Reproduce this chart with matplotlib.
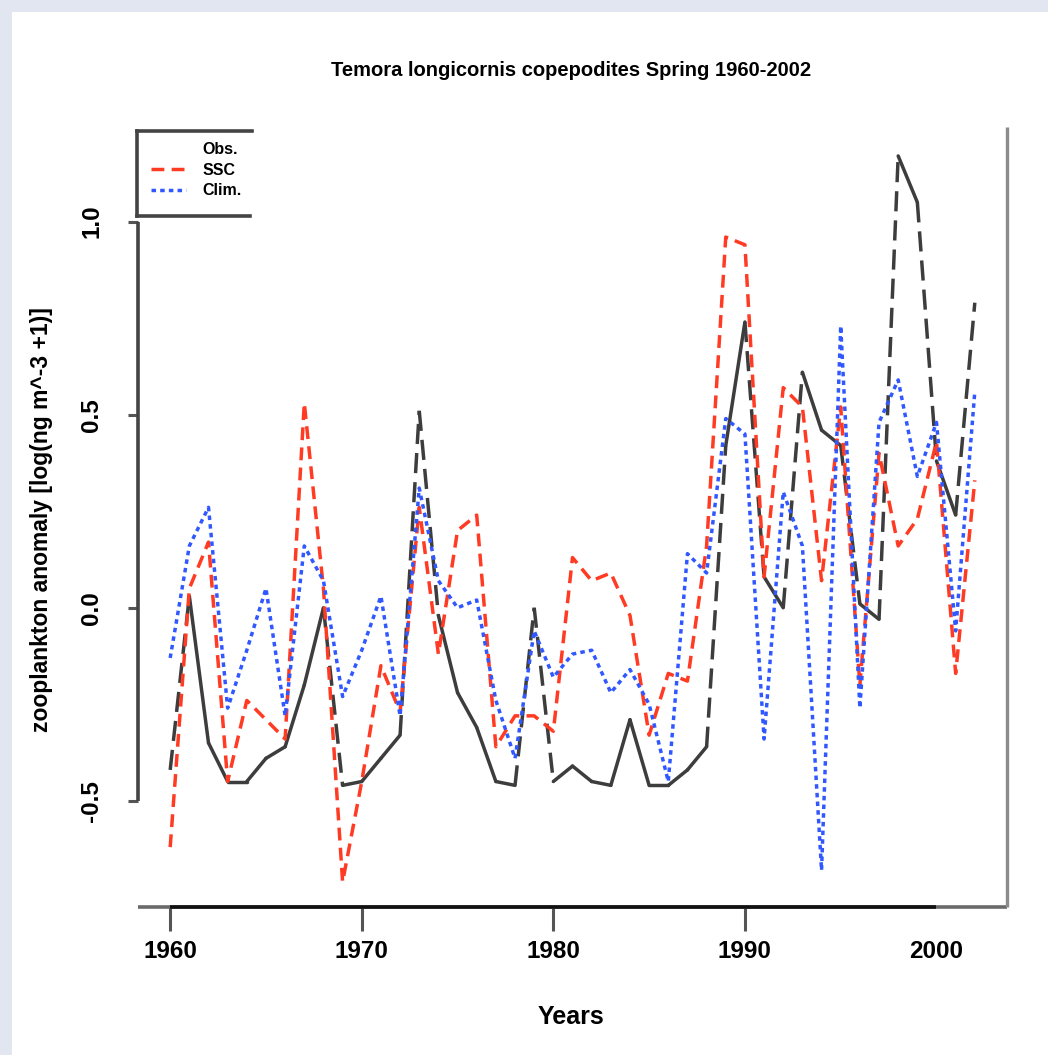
import matplotlib
matplotlib.use("Agg")
import matplotlib.pyplot as plt
from matplotlib.lines import Line2D
from matplotlib.patches import Rectangle

plt.rcParams['font.family'] = ['Liberation Sans', 'DejaVu Sans']
plt.rcParams['font.weight'] = 'bold'

years = list(range(1960, 2003))

# observed anomaly
obs = [-0.42, 0.03, -0.35, -0.45, -0.45, -0.39, -0.36, -0.20, 0.00, -0.46,
       -0.45, -0.39, -0.33, 0.51, -0.02, -0.22, -0.31, -0.45, -0.46, 0.00,
       -0.45, -0.41, -0.45, -0.46, -0.29, -0.46, -0.46, -0.42, -0.36, 0.42,
       0.74, 0.08, 0.00, 0.61, 0.46, 0.42, 0.01, -0.03, 1.17, 1.05,
       0.38, 0.24, 0.79]

# model run
ssc = [-0.62, 0.05, 0.17, -0.45, -0.24, -0.29, -0.34, 0.53, 0.05, -0.71,
       -0.45, -0.15, -0.27, 0.26, -0.12, 0.20, 0.24, -0.36, -0.28, -0.28,
       -0.32, 0.13, 0.07, 0.09, -0.02, -0.33, -0.17, -0.19, 0.16, 0.96,
       0.94, 0.08, 0.57, 0.52, 0.07, 0.52, -0.20, 0.40, 0.16, 0.23,
       0.43, -0.17, 0.33]

# climatology run
clim = [-0.13, 0.16, 0.26, -0.26, -0.11, 0.05, -0.28, 0.16, 0.07, -0.23,
        -0.11, 0.03, -0.28, 0.31, 0.07, 0.00, 0.02, -0.24, -0.39, -0.06,
        -0.18, -0.12, -0.11, -0.22, -0.16, -0.25, -0.45, 0.14, 0.09, 0.49,
        0.45, -0.34, 0.30, 0.16, -0.68, 0.73, -0.26, 0.48, 0.59, 0.34,
        0.48, -0.06, 0.56]

xtick_vals = [1960, 1970, 1980, 1990, 2000]
ytick_vals = [-0.5, 0.0, 0.5, 1.0]
ytick_text = ["-0.5", "0.0", "0.5", "1.0"]

RED = '#ff3b24'
BLUE = '#3158ff'
DARK = '#3d3d3d'

W, H = 1048, 1055
fig = plt.figure(figsize=(W / 100, H / 100), dpi=100)
fig.patch.set_facecolor('#e2e6f0')
fig.add_artist(Rectangle((12 / W, 0), 1, (H - 12) / H, transform=fig.transFigure,
                         facecolor='white', edgecolor='none', zorder=0))


def fx(px):
    return px / W


def fy(py):
    return 1 - py / H


ax = fig.add_axes([fx(138), fy(907), (1007 - 138) / W, (907 - 127) / H])
x0, x1 = 1958.32, 2003.68
y0, y1 = -0.775, 1.245
ax.set_xlim(x0, x1)
ax.set_ylim(y0, y1)
ax.patch.set_alpha(0)
for s in ax.spines.values():
    s.set_visible(False)

# Obs. line: steep steps come out dashed, gentle ones solid
for i in range(len(years) - 1):
    steep = abs(obs[i + 1] - obs[i]) > 0.40
    if steep:
        ax.plot(years[i:i + 2], obs[i:i + 2], color=DARK, lw=2.5,
                dashes=(5.8, 2.6), dash_capstyle='butt')
    else:
        ax.plot(years[i:i + 2], obs[i:i + 2], color=DARK, lw=2.5,
                solid_capstyle='round')

ax.plot(years, ssc, color=RED, lw=2.5, dashes=(3.7, 2.1))
ax.plot(years, clim, color=BLUE, lw=2.5, dashes=(1.3, 1.2))

# axis lines
ax.plot([x0, x0], [-0.5, 1.0], color='#444444', lw=2.6, clip_on=False,
        solid_capstyle='butt')
ax.plot([x0, x1], [y0, y0], color='#6a6a6a', lw=2.6, clip_on=False,
        solid_capstyle='butt')
ax.plot([1960, 2000], [y0, y0], color='#111111', lw=2.6, clip_on=False,
        solid_capstyle='butt')
ax.plot([x1, x1], [y0, y1], color='#8c8c8c', lw=2.4, clip_on=False,
        solid_capstyle='butt')

ax.set_xticks(xtick_vals)
ax.set_xticklabels([str(v) for v in xtick_vals])
ax.tick_params(axis='x', length=17, width=2.2, color='#555555', pad=7,
               labelsize=17.5)
ax.xaxis.get_major_ticks()[-1].tick1line.set_visible(False)

ax.set_yticks(ytick_vals)
ax.set_yticklabels(ytick_text, rotation=90, va='center')
ax.tick_params(axis='y', length=7, width=2.2, color='#555555', pad=18,
               labelsize=17.5)

for lab in ax.get_xticklabels() + ax.get_yticklabels():
    lab.set_fontweight('bold')

# legend
h_obs = Line2D([], [], color='none')
h_ssc = Line2D([], [], color=RED, lw=2.5, dashes=(3.7, 2.1))
h_clim = Line2D([], [], color=BLUE, lw=2.5, dashes=(1.3, 1.2))
leg = ax.legend([h_obs, h_ssc, h_clim], ['Obs.', 'SSC', 'Clim.'],
                loc='upper left', bbox_to_anchor=(fx(151), fy(142)),
                bbox_transform=fig.transFigure, frameon=False,
                prop={'size': 11.5, 'weight': 'bold'}, handlelength=2.2,
                handletextpad=1.0, labelspacing=0.35, borderpad=0,
                borderaxespad=0)

for (xa, ya, xb, yb) in [(137, 131, 252, 131), (137, 216, 250, 216),
                         (137, 131, 137, 216)]:
    fig.add_artist(Line2D([fx(xa), fx(xb)], [fy(ya), fy(yb)], color='#444444',
                          lw=2.6, transform=fig.transFigure))

fig.text(fx(571), fy(70), 'Temora longicornis copepodites Spring 1960-2002',
         ha='center', va='center', fontsize=14.5, fontweight='bold')
fig.text(fx(571), fy(1017), 'Years', ha='center', va='center', fontsize=18,
         fontweight='bold')
fig.text(fx(42), fy(520), 'zooplankton anomaly [log(ng m^-3 +1)]',
         ha='center', va='center', rotation=90, fontsize=16.5,
         fontweight='bold')

fig.savefig('out.png', dpi=100, facecolor=fig.get_facecolor())
